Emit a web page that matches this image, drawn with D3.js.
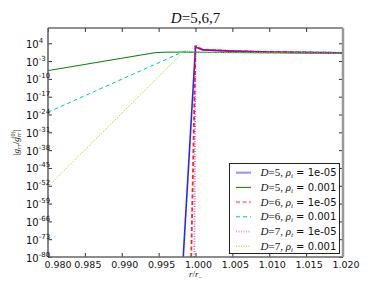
<!DOCTYPE html>
<html>
<head>
<meta charset="utf-8">
<script src="https://cdn.jsdelivr.net/npm/d3@7"></script>
<style>
  body { margin: 0; background: #fff; }
  svg { display: block; }
</style>
</head>
<body>
<svg id="chart" width="382" height="288"></svg>
<script>
// tick labels
var xTicks = [0.980, 0.985, 0.990, 0.995, 1.000, 1.005, 1.010, 1.015, 1.020];
var yTickExp = [4, -3, -10, -17, -24, -31, -38, -45, -52, -59, -66, -73, -80];

// series: r / r_- and |g_rr / g_rr^(0)|
var d5lo_r = [0.99834, 1.0000, 1.0010, 1.0050, 1.0100, 1.0200];
var d5lo_g = [1e-80, 3.2e2, 2.5e1, 8.0, 3.5, 1.6];
var d5hi_r = [0.980, 0.985, 0.990, 0.9945, 0.996, 0.998, 1.000, 1.005, 1.010, 1.020];
var d5hi_g = [1.8e-7, 4.8e-5, 1.3e-2, 2.0, 3.2, 3.5, 3.0, 2.2, 1.8, 1.25];
var d6lo_r = [0.99942, 1.0000, 1.0010, 1.0050, 1.0100, 1.0200];
var d6lo_g = [1e-80, 6.3e2, 2.8e1, 8.5, 3.6, 1.6];
var d6hi_r = [0.980, 0.990, 0.99835, 1.000, 1.005, 1.010, 1.020];
var d6hi_g = [8e-24, 7.4e-11, 5.0, 2.8, 2.2, 1.8, 1.25];
var d7lo_r = [0.99984, 1.0000, 1.0010, 1.0050, 1.0100, 1.0200];
var d7lo_g = [1e-80, 1.6e3, 3.0e1, 9.0, 3.7, 1.6];
var d7hi_r = [0.980, 0.990, 0.99858, 1.000, 1.005, 1.010, 1.020];
var d7hi_g = [5e-53, 3e-24, 1.5e1, 3.0, 2.2, 1.8, 1.25];

var labelsD = ["5", "5", "6", "6", "7", "7"];
var labelsRho = ["1e-05", "0.001", "1e-05", "0.001", "1e-05", "0.001"];

var series = [
  { r: d5lo_r, g: d5lo_g, color: "#0000ff", w: 1.6, dash: null, op: 0.85, lop: 0.4, lw: 2.2 },
  { r: d5hi_r, g: d5hi_g, color: "#008000", w: 1, dash: null, op: 1, lop: 1, lw: 1 },
  { r: d6lo_r, g: d6lo_g, color: "#ff0000", w: 1.8, dash: "4,2.5", op: 0.85, lop: 0.4, lw: 2.2 },
  { r: d6hi_r, g: d6hi_g, color: "#00bfbf", w: 1, dash: "4,3", op: 1, lop: 1, lw: 1 },
  { r: d7lo_r, g: d7lo_g, color: "#bf00bf", w: 1.8, dash: "1,1.5", op: 0.6, lop: 0.4, lw: 2.2 },
  { r: d7hi_r, g: d7hi_g, color: "#bfbf00", w: 1, dash: "1,1.5", op: 1, lop: 1, lw: 1 }
];

var svg = d3.select("#chart");
var pL = 48, pR = 343, pT = 28, pB = 257;

var x = d3.scaleLinear().domain([0.98, 1.02]).range([pL, pR]);
var y = d3.scaleLog().domain([1e-80, 1e10]).range([pB, pT]);

svg.append("defs").append("clipPath").attr("id", "clip")
  .append("rect").attr("x", pL).attr("y", pT)
  .attr("width", pR - pL).attr("height", pB - pT);

// lines
var line = d3.line().x(function(d) { return x(d[0]); }).y(function(d) { return y(d[1]); });
var plot = svg.append("g").attr("clip-path", "url(#clip)");
series.forEach(function(s) {
  var pts = s.r.map(function(v, i) { return [v, s.g[i]]; });
  plot.append("path")
    .datum(pts)
    .attr("d", line)
    .attr("fill", "none")
    .attr("stroke", s.color)
    .attr("stroke-width", s.w)
    .attr("stroke-opacity", s.op)
    .attr("stroke-dasharray", s.dash);
});

// axes (inward ticks, labels added by hand)
var yVals = yTickExp.map(function(e) { return Math.pow(10, e); });
var tickCol = "#333";
function styleAxis(g) {
  g.select(".domain").remove();
  g.selectAll("line").attr("stroke", tickCol);
}
svg.append("g").attr("transform", "translate(" + pL + ",0)")
  .call(d3.axisLeft(y).tickValues(yVals).tickSize(-4).tickFormat("")).call(styleAxis);
svg.append("g").attr("transform", "translate(" + pR + ",0)")
  .call(d3.axisRight(y).tickValues(yVals).tickSize(-4).tickFormat("")).call(styleAxis);
svg.append("g").attr("transform", "translate(0," + pB + ")")
  .call(d3.axisBottom(x).tickValues(xTicks).tickSize(-4).tickFormat("")).call(styleAxis);
svg.append("g").attr("transform", "translate(0," + pT + ")")
  .call(d3.axisTop(x).tickValues(xTicks).tickSize(-4).tickFormat("")).call(styleAxis);

// spines
svg.append("line").attr("x1", pL).attr("x2", pR).attr("y1", pT).attr("y2", pT)
  .attr("stroke", "#222").attr("stroke-width", 1);
svg.append("line").attr("x1", pL).attr("x2", pL).attr("y1", pT).attr("y2", pB)
  .attr("stroke", "#666").attr("stroke-width", 1.6);
svg.append("line").attr("x1", pL).attr("x2", pR).attr("y1", pB).attr("y2", pB)
  .attr("stroke", "#666").attr("stroke-width", 1.6);
svg.append("line").attr("x1", pR).attr("x2", pR).attr("y1", pT).attr("y2", pB)
  .attr("stroke", "#999").attr("stroke-width", 2.5);

// y tick labels 10^n
var sans = "DejaVu Sans, sans-serif";
var serif = "Liberation Serif, DejaVu Serif, serif";
yTickExp.forEach(function(e) {
  var t = svg.append("text")
    .attr("x", 26).attr("y", y(Math.pow(10, e)) + 4.5)
    .attr("font-family", sans).attr("font-size", 10).attr("fill", "#111");
  t.append("tspan").text("10");
  t.append("tspan").attr("dy", -5).attr("font-size", 7).text(e < 0 ? "-" + (-e) : String(e));
});

// x tick labels
var fmt = d3.format(".3f");
xTicks.forEach(function(v, i) {
  svg.append("text")
    .attr("x", x(v) + (i === 0 ? 10 : 3)).attr("y", pB + 10.5)
    .attr("text-anchor", "middle")
    .attr("font-family", sans).attr("font-size", 9.5).attr("fill", "#111")
    .text(fmt(v));
});

// title
var title = svg.append("text")
  .attr("x", (pL + pR) / 2).attr("y", 22.5)
  .attr("text-anchor", "middle")
  .attr("font-family", serif).attr("font-size", 15).attr("fill", "#111");
title.append("tspan").attr("font-style", "italic").text("D");
title.append("tspan").text("=5,6,7");

// x label
var xl = svg.append("text")
  .attr("x", (pL + pR) / 2).attr("y", 277)
  .attr("text-anchor", "middle")
  .attr("font-family", serif).attr("font-size", 9).attr("fill", "#111");
xl.append("tspan").attr("font-style", "italic").text("r");
xl.append("tspan").text("/");
xl.append("tspan").attr("font-style", "italic").text("r");
xl.append("tspan").attr("dy", 2).attr("font-size", 6).text("\u2212");

// y label
var yl = svg.append("text")
  .attr("transform", "translate(19," + ((pT + pB) / 2) + ") rotate(-90)")
  .attr("text-anchor", "middle")
  .attr("font-family", serif).attr("font-size", 9).attr("fill", "#111");
yl.append("tspan").text("|");
yl.append("tspan").attr("font-style", "italic").text("g");
yl.append("tspan").attr("font-style", "italic").attr("font-size", 6).attr("dy", 2).text("rr");
yl.append("tspan").attr("dy", -2).text("/");
yl.append("tspan").attr("font-style", "italic").text("g");
yl.append("tspan").attr("font-style", "italic").attr("font-size", 6).attr("dy", 2).text("rr");
yl.append("tspan").attr("font-size", 6).attr("dy", -6).attr("dx", -6).text("(0)");
yl.append("tspan").attr("dy", 4).text("|");

// legend
var lg = svg.append("g");
lg.append("rect").attr("x", 229.5).attr("y", 163.5).attr("width", 110).attr("height", 90)
  .attr("fill", "#fff").attr("stroke", "#222").attr("stroke-width", 1);
series.forEach(function(s, i) {
  var cy = 172.7 + i * 14.7;
  lg.append("line").attr("x1", 236).attr("x2", 251).attr("y1", cy).attr("y2", cy)
    .attr("stroke", s.color).attr("stroke-width", s.lw)
    .attr("stroke-opacity", s.lop).attr("stroke-dasharray", s.dash);
  var t = lg.append("text").attr("x", 260.5).attr("y", cy + 3.5)
    .attr("font-family", serif).attr("font-size", 11).attr("fill", "#111");
  t.append("tspan").attr("font-style", "italic").text("D");
  t.append("tspan").text("=" + labelsD[i] + ", ");
  t.append("tspan").attr("font-style", "italic").text("\u03c1");
  t.append("tspan").attr("font-style", "italic").attr("font-size", 7).attr("dy", 2).text("i");
  t.append("tspan").attr("dy", -2).attr("font-family", sans).attr("font-size", 10)
    .text(" = " + labelsRho[i]);
});
</script>
</body>
</html>
